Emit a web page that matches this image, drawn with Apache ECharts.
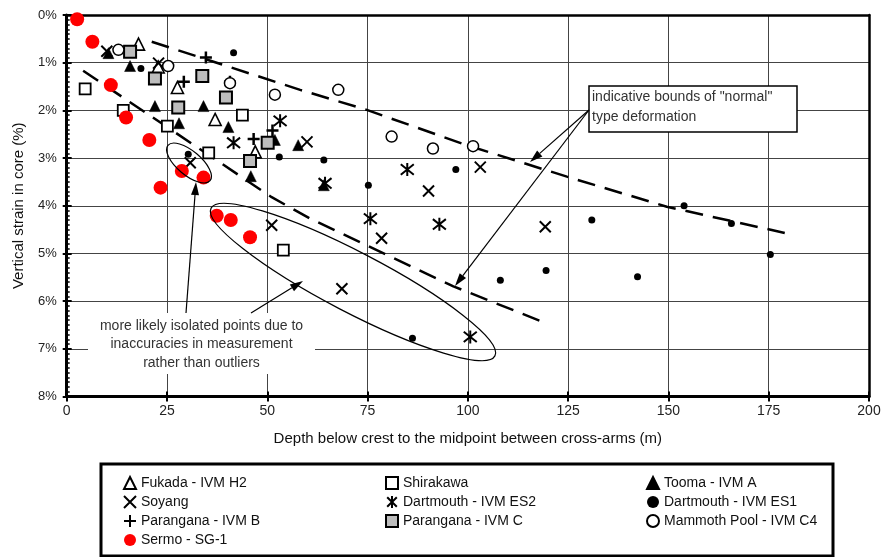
<!DOCTYPE html>
<html><head><meta charset="utf-8">
<script src="https://cdn.jsdelivr.net/npm/echarts@6/dist/echarts.min.js"></script>
<style>html,body{margin:0;padding:0;background:#fff}#c{width:884px;height:557px}</style>
</head><body><div id="c"></div>
<script>
// ---------- data ----------
const xTickLabels = ['0','25','50','75','100','125','150','175','200'];
const yTickLabels = ['0%','1%','2%','3%','4%','5%','6%','7%','8%'];

const fukada = [[17.9,0.61],[22.8,1.09],[27.6,1.52],[37,2.19],[47,2.87]];
const shirakawa = [[4.6,1.55],[14.1,2.0],[25.1,2.33],[35.4,2.89],[43.8,2.1],[54,4.93]];
const tooma = [[10.4,0.80],[15.8,1.07],[22,1.91],[34.1,1.91],[28,2.27],[40.3,2.35],[51.9,2.62],[45.9,3.38],[57.7,2.73],[64.1,3.57]];
const soyang = [[10,0.76],[22.9,1.01],[30.8,3.1],[59.9,2.66],[51.1,4.41],[78.5,4.68],[68.6,5.74],[103.1,3.19],[90.2,3.69],[119.3,4.44]];
const dartmouthES2 = [[41.6,2.68],[53.2,2.22],[64.4,3.53],[75.7,4.27],[92.9,4.39],[100.6,6.75],[84.9,3.24]];
const dartmouthES1 = [[41.6,0.79],[18.5,1.12],[30.3,2.92],[53,2.98],[64.1,3.04],[75.2,3.57],[97,3.24],[108.1,5.56],[119.5,5.36],[142.3,5.49],[130.9,4.30],[153.9,4.0],[165.7,4.37],[175.4,5.02],[86.2,6.78]];
const paranganaB = [[34.7,0.89],[29.2,1.40],[40.7,1.40],[46.6,2.60],[51.3,2.42]];
const paranganaC = [[15.8,0.77],[22,1.33],[33.8,1.28],[39.7,1.73],[27.8,1.94],[45.7,3.06],[50.1,2.68]];
const mammoth = [[12.9,0.73],[25.3,1.07],[40.7,1.43],[51.9,1.67],[67.7,1.57],[81,2.55],[91.3,2.8],[101.3,2.75]];
const sermo = [[2.6,0.09],[6.4,0.56],[11,1.47],[14.8,2.15],[20.6,2.62],[23.4,3.62],[28.7,3.27],[34.1,3.41],[37.4,4.21],[40.9,4.30],[45.7,4.66]];

const upperBound = [[21.2,0.56],[58.2,1.57],[74.8,1.99],[99.7,2.73],[124.7,3.39],[149.6,4.02],[179,4.57]];
const lowerBound = [[4.1,1.17],[51.1,3.82],[60.7,4.27],[96.4,5.69],[119.7,6.47]];

// ---------- styling ----------
const FONT = 'Arial, "Liberation Sans", sans-serif';
const NARROW = '"Liberation Sans Narrow", "Arial Narrow", Arial, sans-serif';
const PATH_X = 'path://M0,0L10,10M10,0L0,10';
const PATH_PLUS = 'path://M5,0L5,10M0,5L10,5';
const PATH_AST = 'path://M1,1L9,9M9,1L1,9M5,0L5,10';

function sc(name, data, symbol, size, fill, border, bw, z) {
  return {
    type: 'scatter', name, data, symbol, symbolSize: size, z: z || 3,
    itemStyle: { color: fill, borderColor: border, borderWidth: bw, opacity: 1 },
    emphasis: { disabled: true }
  };
}

function arrow(x1, y1, x2, y2) {
  const a = Math.atan2(y2 - y1, x2 - x1);
  const L = 13, W = 4;
  const bx = x2 - L * Math.cos(a), by = y2 - L * Math.sin(a);
  const px = -Math.sin(a) * W, py = Math.cos(a) * W;
  return [
    { type: 'line', z: 101, shape: { x1, y1, x2: bx, y2: by }, style: { stroke: '#000', lineWidth: 1.2 } },
    { type: 'polygon', z: 101, shape: { points: [[x2, y2], [bx + px, by + py], [bx - px, by - py]] }, style: { fill: '#000' } }
  ];
}

const legendCommon = {
  orient: 'vertical', itemGap: 5, itemWidth: 12, itemHeight: 12,
  textStyle: { fontSize: 14, color: '#111', fontFamily: FONT },
  selectedMode: false
};

const chart = echarts.init(document.getElementById('c'), null, { renderer: 'canvas' });
const grid = { left: 66.7, right: 15, top: 15, bottom: 160.5 };

chart.setOption({
  backgroundColor: '#fff',
  animation: false,
  grid: grid,
  xAxis: [
    {
      type: 'value', min: 0, max: 200, interval: 25, position: 'bottom',
      name: 'Depth below crest to the midpoint between cross-arms (m)',
      nameLocation: 'middle', nameGap: 35,
      nameTextStyle: { fontSize: 15, color: '#111', fontFamily: FONT },
      axisLine: { show: true, onZero: false, lineStyle: { color: '#000', width: 3 } },
      axisTick: { show: true, inside: true, length: 5, lineStyle: { color: '#000', width: 2 } },
      axisLabel: { fontSize: 14, color: '#222', fontFamily: NARROW, margin: 8,
        formatter: v => xTickLabels[Math.round(v / 25)] },
      splitLine: { show: true, lineStyle: { color: '#444', width: 1 } }
    },
    {
      type: 'value', min: 0, max: 200, interval: 25, position: 'bottom',
      axisLine: { show: false, onZero: false },
      axisTick: { show: true, inside: false, length: 5, lineStyle: { color: '#000', width: 2 } },
      axisLabel: { show: false }, splitLine: { show: false }
    },
    {
      type: 'value', min: 0, max: 200, position: 'top',
      axisLine: { show: true, onZero: false, lineStyle: { color: '#000', width: 2.5 } },
      axisTick: { show: false }, axisLabel: { show: false }, splitLine: { show: false }
    }
  ],
  yAxis: [
    {
      type: 'value', min: 0, max: 8, interval: 1, inverse: true, position: 'left',
      name: 'Vertical strain in core (%)', nameLocation: 'middle', nameGap: 40,
      nameTextStyle: { fontSize: 15, color: '#111', fontFamily: FONT },
      axisLine: { show: true, onZero: false, lineStyle: { color: '#000', width: 3 } },
      axisTick: { show: true, inside: true, length: 5, lineStyle: { color: '#000', width: 2 } },
      minorTick: { show: true, splitNumber: 10, length: 3, lineStyle: { color: '#000', width: 1.5 } },
      axisLabel: { fontSize: 13, color: '#222', fontFamily: FONT, margin: 10,
        formatter: v => yTickLabels[Math.round(v)] },
      splitLine: { show: true, lineStyle: { color: '#444', width: 1 } }
    },
    {
      type: 'value', min: 0, max: 8, interval: 1, inverse: true, position: 'left',
      axisLine: { show: false, onZero: false },
      axisTick: { show: true, inside: false, length: 4, lineStyle: { color: '#000', width: 2 } },
      axisLabel: { show: false }, splitLine: { show: false }
    },
    {
      type: 'value', min: 0, max: 8, inverse: true, position: 'right',
      axisLine: { show: true, onZero: false, lineStyle: { color: '#000', width: 2.5 } },
      axisTick: { show: false }, axisLabel: { show: false }, splitLine: { show: false }
    }
  ],
  legend: [
    Object.assign({}, legendCommon, { left: 118, top: 471, data: ['Fukada - IVM H2', 'Soyang', 'Parangana - IVM B', 'Sermo - SG-1'] }),
    Object.assign({}, legendCommon, { left: 380, top: 471, data: ['Shirakawa', 'Dartmouth - IVM ES2', 'Parangana - IVM C'] }),
    Object.assign({}, legendCommon, { left: 641, top: 471, data: ['Tooma - IVM A', 'Dartmouth - IVM ES1', 'Mammoth Pool - IVM C4'] })
  ],
  series: [
    { type: 'line', name: 'upper', data: upperBound, symbol: 'none', z: 2, silent: true,
      lineStyle: { color: '#000', width: 2.5, type: [18, 10] } },
    { type: 'line', name: 'lower', data: lowerBound, symbol: 'none', z: 2, silent: true,
      lineStyle: { color: '#000', width: 2.5, type: [18, 10] } },
    sc('Fukada - IVM H2', fukada, 'triangle', 12, '#fff', '#000', 1.6),
    sc('Shirakawa', shirakawa, 'rect', 11, '#fff', '#000', 1.8),
    sc('Tooma - IVM A', tooma, 'triangle', 11, '#000', '#000', 0.5),
    sc('Soyang', soyang, PATH_X, 11, '#000', '#000', 2),
    sc('Dartmouth - IVM ES2', dartmouthES2, PATH_AST, 13, '#000', '#000', 2),
    sc('Dartmouth - IVM ES1', dartmouthES1, 'circle', 7, '#000', '#000', 0),
    sc('Parangana - IVM B', paranganaB, PATH_PLUS, 12, '#000', '#000', 2.5),
    sc('Parangana - IVM C', paranganaC, 'rect', 12, '#bdbdbd', '#000', 2),
    sc('Mammoth Pool - IVM C4', mammoth, 'circle', 11, '#fff', '#000', 1.5),
    sc('Sermo - SG-1', sermo, 'circle', 14, '#ff0000', '#ff0000', 0, 4)
  ],
  graphic: [
    // legend frame
    { type: 'rect', z: 100, shape: { x: 101, y: 464, width: 732, height: 92 },
      style: { fill: 'none', stroke: '#000', lineWidth: 3 } },
    // "normal" bounds note
    { type: 'rect', z: 100, shape: { x: 589, y: 86, width: 208, height: 46 },
      style: { fill: '#fff', stroke: '#000', lineWidth: 1.5 } },
    { type: 'text', z: 102, x: 592, y: 87,
      style: { text: 'indicative bounds of "normal"\ntype deformation', fill: '#333',
        font: '14px ' + FONT, lineHeight: 20 } },
    ...arrow(589, 110, 530, 162),
    ...arrow(589, 110, 455, 286),
    // isolated points note
    { type: 'rect', z: 100, shape: { x: 88, y: 313, width: 227, height: 61 },
      style: { fill: '#fff' } },
    { type: 'text', z: 102, x: 201.5, y: 317,
      style: { text: 'more likely isolated points due to\ninaccuracies in measurement\nrather than outliers',
        fill: '#333', font: '14px ' + FONT, align: 'center', lineHeight: 18.3 } },
    ...arrow(186, 313, 196, 182),
    ...arrow(251, 313, 303, 281),
    // ellipses
    { type: 'ellipse', z: 101, x: 189, y: 163, rotation: -40 * Math.PI / 180,
      shape: { cx: 0, cy: 0, rx: 27.5, ry: 12 }, style: { fill: 'none', stroke: '#000', lineWidth: 1.2 } },
    { type: 'ellipse', z: 101, x: 353, y: 282, rotation: -27.5 * Math.PI / 180,
      shape: { cx: 0, cy: 0, rx: 160, ry: 30 }, style: { fill: 'none', stroke: '#000', lineWidth: 1.2 } }
  ]
});
</script>
</body></html>
